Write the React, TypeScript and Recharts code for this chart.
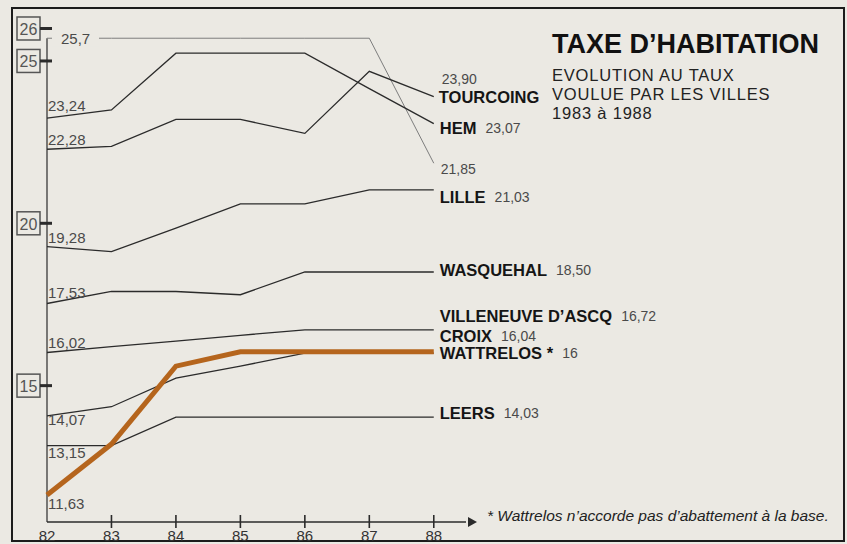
import React from 'react';
import { LineChart, Line, XAxis, YAxis, ReferenceLine, ReferenceDot } from 'recharts';

// années (axe horizontal) et graduations de l'axe vertical
const YEARS = [82, 83, 84, 85, 86, 87, 88];
const Y_TICKS = [15, 20, 25, 26];

// taux de la taxe d'habitation par ville, 1982 -> 1988
const SANS_NOM = [25.7, 25.7, 25.7, 25.7, 25.7, 25.7, 21.85];
const HEM = [23.24, 23.49, 25.24, 25.24, 25.24, 24.15, 23.07];
const TOURCOING = [22.28, 22.37, 23.2, 23.2, 22.77, 24.68, 23.9];
const LILLE = [19.28, 19.13, 19.85, 20.6, 20.6, 21.03, 21.03];
const WASQUEHAL = [17.53, 17.9, 17.9, 17.8, 18.5, 18.5, 18.5];
const VILLENEUVE = [16.02, 16.2, 16.37, 16.55, 16.72, 16.72, 16.72];
const WATTRELOS = [14.07, 14.35, 15.23, 15.6, 16, 16, 16];
const LEERS = [13.15, 13.15, 14.03, 14.03, 14.03, 14.03, 14.03];
const CROIX = [11.63, 13.2, 15.6, 16.04, 16.04, 16.04, 16.04];

const FONT = '"Liberation Sans", Arial, sans-serif';
const INK = '#2b2b2b';
const GREY_TEXT = '#4a4a4a';
const PAPER = '#ebe9e3';
const BROWN = '#b5651d';

type StartPos = 'above' | 'below' | 'inline';
type Series = {
  key: string;
  values: number[];
  name: string;
  color: string;
  width: number;
  start: StartPos;
  startDy: number;
  startDecimals?: number;
  endDy: number;
  valueAbove?: boolean;
};

const SERIES: Series[] = [
  { key: 'sansNom', values: SANS_NOM, name: '', color: '#7d7d7d', width: 1, start: 'inline', startDy: 0, startDecimals: 1, endDy: 6 },
  { key: 'hem', values: HEM, name: 'HEM', color: INK, width: 1.3, start: 'above', startDy: -7, endDy: 4 },
  { key: 'tourcoing', values: TOURCOING, name: 'TOURCOING', color: INK, width: 1.3, start: 'above', startDy: -4, endDy: 0, valueAbove: true },
  { key: 'lille', values: LILLE, name: 'LILLE', color: INK, width: 1.3, start: 'above', startDy: -4, endDy: 7 },
  { key: 'wasquehal', values: WASQUEHAL, name: 'WASQUEHAL', color: INK, width: 1.3, start: 'above', startDy: -5, endDy: -2 },
  { key: 'villeneuve', values: VILLENEUVE, name: 'VILLENEUVE D’ASCQ', color: INK, width: 1.3, start: 'above', startDy: -5, endDy: -14 },
  { key: 'wattrelos', values: WATTRELOS, name: 'WATTRELOS *', color: INK, width: 1.3, start: 'below', startDy: 9, endDy: 0 },
  { key: 'leers', values: LEERS, name: 'LEERS', color: INK, width: 1.3, start: 'below', startDy: 12, endDy: -4 },
  { key: 'croix', values: CROIX, name: 'CROIX', color: BROWN, width: 5, start: 'below', startDy: 14, endDy: -16 },
];

const data = YEARS.map((year, i) => {
  const row: Record<string, number> = { year };
  SERIES.forEach((s) => {
    row[s.key] = s.values[i];
  });
  return row;
});

const fmt = (v: number, decimals = 2) =>
  Number.isInteger(v) ? String(v) : v.toFixed(decimals).replace('.', ',');

const renderLabel = (s: Series) => (props: any) => {
  const { x, y, index, value } = props;
  const last = YEARS.length - 1;
  if (index === 0) {
    const text = fmt(value, s.startDecimals);
    if (s.start === 'inline') {
      return (
        <g key={`${s.key}-start`}>
          <rect x={x + 5} y={y - 8} width={47} height={16} fill={PAPER} />
          <text x={x + 14} y={y} dominantBaseline="central" fontSize={15} fill={GREY_TEXT} fontFamily={FONT}>
            {text}
          </text>
        </g>
      );
    }
    return (
      <text key={`${s.key}-start`} x={x + 1} y={y + s.startDy} fontSize={15} fill={GREY_TEXT} fontFamily={FONT}>
        {text}
      </text>
    );
  }
  if (index === last) {
    const ly = y + s.endDy;
    const valueText = fmt(value);
    if (s.valueAbove) {
      return (
        <g key={`${s.key}-end`} fontFamily={FONT}>
          <text x={x + 8} y={ly - 18} dominantBaseline="central" fontSize={14} fill={GREY_TEXT}>
            {valueText}
          </text>
          <text x={x + 5} y={ly} dominantBaseline="central" fontSize={16.5} fontWeight="bold" fill="#151515">
            {s.name}
          </text>
        </g>
      );
    }
    return (
      <text key={`${s.key}-end`} x={x + 6} y={ly} dominantBaseline="central" fontFamily={FONT}>
        {s.name && (
          <tspan fontSize={16.5} fontWeight="bold" fill="#151515">
            {s.name}
          </tspan>
        )}
        <tspan dx={s.name ? 9 : 1} fontSize={14} fill={GREY_TEXT}>
          {valueText}
        </tspan>
      </text>
    );
  }
  return null;
};

const YTick = ({ y, payload }: any) => (
  <g>
    <rect x={17} y={y - 11.5} width={23} height={23} fill="none" stroke="#555" strokeWidth={1.5} />
    <text x={28.5} y={y + 1} textAnchor="middle" dominantBaseline="central" fontSize={16} fill="#555" fontFamily={FONT}>
      {payload.value}
    </text>
    <line x1={40} x2={52} y1={y} y2={y} stroke={INK} strokeWidth={3} />
  </g>
);

const XTick = ({ x, y, payload }: any) => (
  <g>
    {payload.value !== YEARS[0] && (
      <line x1={x} x2={x} y1={y - 7} y2={y + 6} stroke={INK} strokeWidth={1.6} />
    )}
    <text x={x} y={y + 13} textAnchor="middle" dominantBaseline="central" fontSize={15} fill="#333" fontFamily={FONT}>
      {payload.value}
    </text>
  </g>
);

const Arrow = ({ cx, cy }: any) => (
  <path d={`M ${cx + 2} ${cy - 5} L ${cx + 11} ${cy} L ${cx + 2} ${cy + 5} Z`} fill={INK} />
);

export default function App() {
  return (
    <div style={{ position: 'absolute', left: 0, top: 0, width: 847, height: 544, background: PAPER }}>
      <LineChart width={847} height={544} data={data} margin={{ top: 22, right: 381, bottom: 0, left: 12 }}>
        <rect x={12} y={8} width={832} height={533} fill="none" stroke="#1c1c1c" strokeWidth={2} />
        <XAxis
          dataKey="year"
          type="number"
          domain={[82, 88.5]}
          ticks={YEARS}
          interval={0}
          height={22}
          tickSize={0}
          tickMargin={0}
          tickLine={false}
          axisLine={{ stroke: INK, strokeWidth: 1.5 }}
          tick={<XTick />}
        />
        <YAxis
          type="number"
          domain={[10.8, 26.2]}
          ticks={Y_TICKS}
          interval={0}
          width={35}
          axisLine={false}
          tickLine={false}
          tick={<YTick />}
        />
        <ReferenceLine
          segment={[
            { x: 82, y: 25.7 },
            { x: 82, y: 10.8 },
          ]}
          stroke={INK}
          strokeWidth={1.2}
          ifOverflow="visible"
        />
        <ReferenceDot x={88.5} y={10.8} ifOverflow="visible" shape={<Arrow />} />
        {SERIES.map((s) => (
          <Line
            key={s.key}
            dataKey={s.key}
            type="linear"
            stroke={s.color}
            strokeWidth={s.width}
            strokeLinejoin="miter"
            dot={false}
            activeDot={false}
            isAnimationActive={false}
            label={renderLabel(s)}
          />
        ))}
        <text x={552} y={44} dominantBaseline="central" fontSize={27} fontWeight="bold" fill="#111" fontFamily={FONT}>
          TAXE D’HABITATION
        </text>
        <g fontSize={16.5} letterSpacing={0.8} fill="#222" fontFamily={FONT}>
          <text x={552} y={75} dominantBaseline="central">EVOLUTION AU TAUX</text>
          <text x={552} y={94} dominantBaseline="central">VOULUE PAR LES VILLES</text>
          <text x={552} y={113} dominantBaseline="central">1983 à 1988</text>
        </g>
        <text x={487} y={515} dominantBaseline="central" fontSize={15.5} fontStyle="italic" fill="#222" fontFamily={FONT}>
          * Wattrelos n’accorde pas d’abattement à la base.
        </text>
      </LineChart>
    </div>
  );
}
